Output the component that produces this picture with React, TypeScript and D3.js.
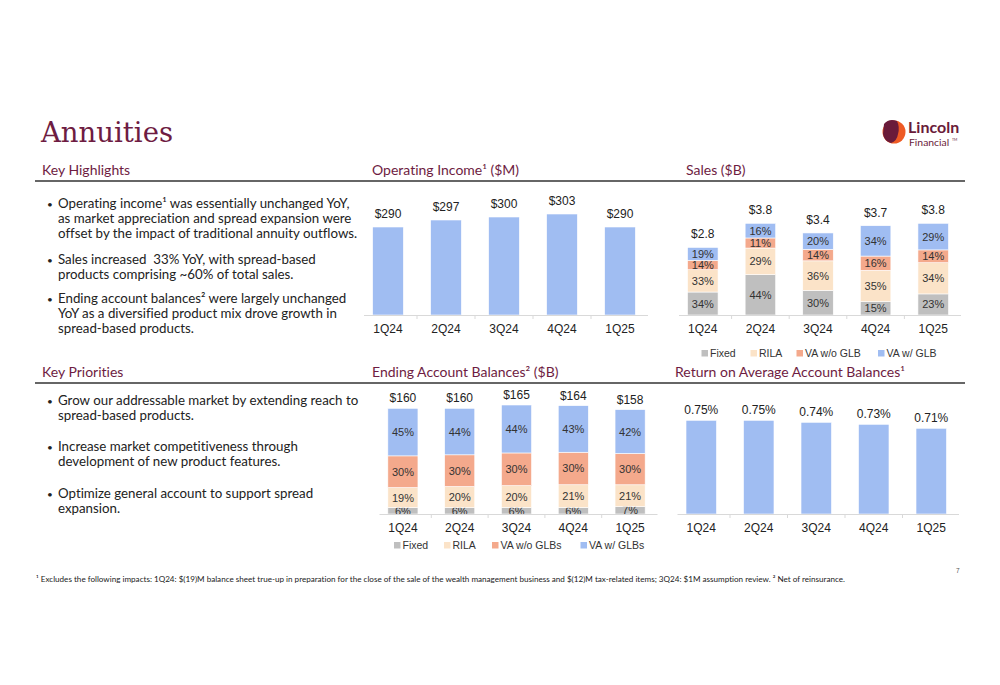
import * as d3 from "d3";

// ---- data ----
const quarters = ["1Q24", "2Q24", "3Q24", "4Q24", "1Q25"];

const opIncome = [290, 297, 300, 303, 290];

const salesTotal = [2.8, 3.8, 3.4, 3.7, 3.8];
const salesFixed = [34, 44, 30, 15, 23];
const salesRila = [33, 29, 36, 35, 34];
const salesVaNoGlb = [14, 11, 14, 16, 14];
const salesVaGlb = [19, 16, 20, 34, 29];
const salesLegend = ["Fixed", "RILA", "VA w/o GLB", "VA w/ GLB"];

const balTotal = [160, 160, 165, 164, 158];
const balFixed = [6, 6, 6, 6, 7];
const balRila = [19, 20, 20, 21, 21];
const balVaNoGlb = [30, 30, 30, 30, 30];
const balVaGlb = [45, 44, 44, 43, 42];
const balLegend = ["Fixed", "RILA", "VA w/o GLBs", "VA w/ GLBs"];

const returnRate = [0.75, 0.75, 0.74, 0.73, 0.71];

const highlights = [
  [
    "Operating income\u00b9 was essentially unchanged YoY,",
    "as market appreciation and spread expansion were",
    "offset by the impact of traditional annuity outflows.",
  ],
  ["Sales increased  33% YoY, with spread-based", "products comprising ~60% of total sales."],
  [
    "Ending account balances\u00b2 were largely unchanged",
    "YoY as a diversified product mix drove growth in",
    "spread-based products.",
  ],
];

const priorities = [
  ["Grow our addressable market by extending reach to", "spread-based products."],
  ["Increase market competitiveness through", "development of new product features."],
  ["Optimize general account to support spread", "expansion."],
];

const footnote =
  "\u00b9 Excludes the following impacts: 1Q24: $(19)M balance sheet true-up in preparation for the close of the sale of the wealth management business and $(12)M tax-related items; 3Q24: $1M assumption review. \u00b2 Net of reinsurance.";

// ---- styling ----
const MAROON = "#6e1c42";
const BLUE = "#a0bdf2";
const GRAY = "#bfbfbf";
const PEACH = "#fbe3c8";
const SALMON = "#f4a98c";
const segColors = [GRAY, PEACH, SALMON, BLUE];
const CHART_FONT = "'Liberation Sans', Arial, sans-serif";
const TEXT_FONT = "Lato, 'Open Sans', sans-serif";
const INK = "#222";
const noLig = { fontVariantLigatures: "none" as const, whiteSpace: "pre" as const };

type Axis = { x: d3.ScaleBand<string>; baseline: number };

function CategoryAxis({ x, baseline, labelY }: Axis & { labelY: number }) {
  const [r0, r1] = x.range();
  const bounds = quarters.slice(1).map((q) => (x(q) as number) - (x.step() - x.bandwidth()) / 2);
  return (
    <g>
      <line x1={r0 + 5} x2={r1 - 1} y1={baseline + 0.5} y2={baseline + 0.5} stroke="#d9d9d9" strokeWidth={1} />
      {bounds.map((b, i) => (
        <line key={i} x1={b} x2={b} y1={baseline} y2={baseline + 4} stroke="#d9d9d9" strokeWidth={1} />
      ))}
      {quarters.map((q) => (
        <text
          key={q}
          x={(x(q) as number) + x.bandwidth() / 2}
          y={labelY}
          textAnchor="middle"
          fontFamily={CHART_FONT}
          fontSize={12}
          fill={INK}
        >
          {q}
        </text>
      ))}
    </g>
  );
}

function SimpleBars({
  values,
  x,
  y,
  format,
  labelGap,
}: {
  values: number[];
  x: d3.ScaleBand<string>;
  y: d3.ScaleLinear<number, number>;
  format: (v: number) => string;
  labelGap: number;
}) {
  const base = y.range()[0];
  return (
    <g>
      {values.map((v, i) => {
        const q = quarters[i];
        const x0 = x(q) as number;
        return (
          <g key={q}>
            <rect x={x0} y={y(v)} width={x.bandwidth()} height={base - y(v)} fill={BLUE} stroke="#fff" strokeWidth={0.6} />
            <text
              x={x0 + x.bandwidth() / 2}
              y={y(v) - labelGap}
              textAnchor="middle"
              fontFamily={CHART_FONT}
              fontSize={12}
              fill={INK}
            >
              {format(v)}
            </text>
          </g>
        );
      })}
    </g>
  );
}

function StackedBars({
  totals,
  shares,
  x,
  y,
  format,
  labelGap,
}: {
  totals: number[];
  shares: number[][];
  x: d3.ScaleBand<string>;
  y: d3.ScaleLinear<number, number>;
  format: (v: number) => string;
  labelGap: number;
}) {
  const keys = ["k0", "k1", "k2", "k3"];
  const rows = quarters.map((q, i) => {
    const row: Record<string, number | string> = { q };
    keys.forEach((k, j) => (row[k] = (totals[i] * shares[j][i]) / 100));
    return row;
  });
  const series = d3.stack<Record<string, number | string>>().keys(keys)(rows);
  return (
    <g>
      {series.map((s, j) => (
        <g key={s.key}>
          {s.map((d, i) => {
            const q = quarters[i];
            const x0 = x(q) as number;
            const top = y(d[1]);
            const bot = y(d[0]);
            return (
              <g key={q}>
                <rect x={x0} y={top} width={x.bandwidth()} height={bot - top} fill={segColors[j]} stroke="#fff" strokeWidth={0.6} />
                <text
                  x={x0 + x.bandwidth() / 2}
                  y={(top + bot) / 2 + 4}
                  textAnchor="middle"
                  fontFamily={CHART_FONT}
                  fontSize={11}
                  fill="#333"
                >
                  {shares[j][i]}%
                </text>
              </g>
            );
          })}
        </g>
      ))}
      {totals.map((t, i) => {
        const q = quarters[i];
        return (
          <text
            key={q}
            x={(x(q) as number) + x.bandwidth() / 2}
            y={y(t) - labelGap}
            textAnchor="middle"
            fontFamily={CHART_FONT}
            fontSize={12}
            fill={INK}
          >
            {format(t)}
          </text>
        );
      })}
    </g>
  );
}

function Legend({ items, xs, y }: { items: string[]; xs: number[]; y: number }) {
  return (
    <g fontFamily={CHART_FONT} fontSize={10.5} fill="#333">
      {items.map((it, i) => (
        <g key={it}>
          <rect x={xs[i]} y={y - 7} width={6.5} height={6.5} fill={segColors[i]} />
          <text x={xs[i] + 8.5} y={y}>
            {it}
          </text>
        </g>
      ))}
    </g>
  );
}

function Bullets({ items, x, starts }: { items: string[][]; x: number; starts: number[] }) {
  return (
    <g fontFamily={TEXT_FONT} fontSize={13.3} fill={INK}>
      {items.map((lines, i) => (
        <g key={i}>
          <text x={x - 11} y={starts[i] - 0.5} fontSize={10}>
            {"\u2022"}
          </text>
          {lines.map((l, j) => (
            <text key={j} x={x} y={starts[i] + j * 15} style={noLig}>
              {l}
            </text>
          ))}
        </g>
      ))}
    </g>
  );
}

function Header({ x, y, text }: { x: number; y: number; text: string }) {
  return (
    <text x={x} y={y} fontFamily={TEXT_FONT} fontSize={14} fill={MAROON} style={noLig}>
      {text}
    </text>
  );
}

function band(r0: number, r1: number) {
  return d3.scaleBand<string>().domain(quarters).range([r0, r1]).paddingInner(0.47).paddingOuter(0.235);
}

export default function App() {
  // Operating income ($M) – axis does not start at zero on the slide
  const opX = band(359, 649);
  const opY = d3.scaleLinear().domain([202, 303]).range([315, 214]);

  // Sales ($B)
  const salesX = band(674, 962);
  const salesY = d3.scaleLinear().domain([0, 3.8]).range([315, 223.3]);

  // Ending account balances ($B)
  const balX = band(374.5, 658.5);
  const balY = d3.scaleLinear().domain([0, 165]).range([514, 405]);

  // Return on average account balances
  const retX = band(672.5, 960);
  const retY = d3.scaleLinear().domain([0.28, 0.75]).range([514, 420.3]);

  return (
    <svg
      width={1000}
      height={685}
      viewBox="0 0 1000 685"
      style={{ position: "absolute", left: 0, top: 0, background: "#fff" }}
    >
      <text x={41} y={142} fontFamily="'DejaVu Serif', serif" fontSize={27.5} fill={MAROON}>
        Annuities
      </text>

      {/* logo */}
      <g>
        <circle cx={894} cy={132} r={11.5} fill="#ee5a24" />
        <path d="M884 124 Q889 118 897 121 Q900 127 898 134 Q897 141 891 143 Q884 141 883 134 Z" fill="#6a1b3a" />
        <text x={908} y={133} fontFamily={TEXT_FONT} fontWeight={700} fontSize={16} fill="#6a1b3a">
          Lincoln
        </text>
        <text x={909} y={146} fontFamily={TEXT_FONT} fontSize={10.4} fill="#6a1b3a">
          Financial
        </text>
        <text x={952} y={141} fontFamily={TEXT_FONT} fontSize={3.5} fill="#6a1b3a">
          TM
        </text>
      </g>

      {/* section rules */}
      <line x1={35} x2={965} y1={181} y2={181} stroke="#333" strokeWidth={1.3} />
      <line x1={35} x2={965} y1={383} y2={383} stroke="#333" strokeWidth={1.3} />

      <Header x={42} y={175} text="Key Highlights" />
      <Header x={372} y={175} text={"Operating Income\u00b9 ($M)"} />
      <Header x={686} y={175} text="Sales ($B)" />
      <Header x={42} y={377} text="Key Priorities" />
      <Header x={372} y={377} text={"Ending Account Balances\u00b2 ($B)"} />
      <Header x={675} y={377} text={"Return on Average Account Balances\u00b9"} />

      <Bullets items={highlights} x={58} starts={[208, 264, 303]} />
      <Bullets items={priorities} x={58} starts={[405, 451, 498]} />

      {/* Operating income */}
      <SimpleBars values={opIncome} x={opX} y={opY} format={(v) => `$${v}`} labelGap={9} />
      <CategoryAxis x={opX} baseline={315} labelY={333} />

      {/* Sales */}
      <StackedBars
        totals={salesTotal}
        shares={[salesFixed, salesRila, salesVaNoGlb, salesVaGlb]}
        x={salesX}
        y={salesY}
        format={(v) => `$${v.toFixed(1)}`}
        labelGap={9}
      />
      <CategoryAxis x={salesX} baseline={315} labelY={333} />
      <Legend items={salesLegend} xs={[701.5, 750.5, 796.5, 878]} y={357} />

      {/* Ending account balances */}
      <StackedBars
        totals={balTotal}
        shares={[balFixed, balRila, balVaNoGlb, balVaGlb]}
        x={balX}
        y={balY}
        format={(v) => `$${v}`}
        labelGap={6}
      />
      <CategoryAxis x={balX} baseline={514} labelY={532} />
      <Legend items={balLegend} xs={[394, 444, 492, 580.5]} y={549} />

      {/* Return on average account balances */}
      <SimpleBars values={returnRate} x={retX} y={retY} format={(v) => `${v.toFixed(2)}%`} labelGap={6} />
      <CategoryAxis x={retX} baseline={514} labelY={532} />

      <text x={956} y={573} fontFamily={CHART_FONT} fontSize={6.5} fill="#555">
        7
      </text>
      <text x={36} y={582} fontFamily={TEXT_FONT} fontSize={8.1} fill={INK} style={noLig}>
        {footnote}
      </text>
    </svg>
  );
}
